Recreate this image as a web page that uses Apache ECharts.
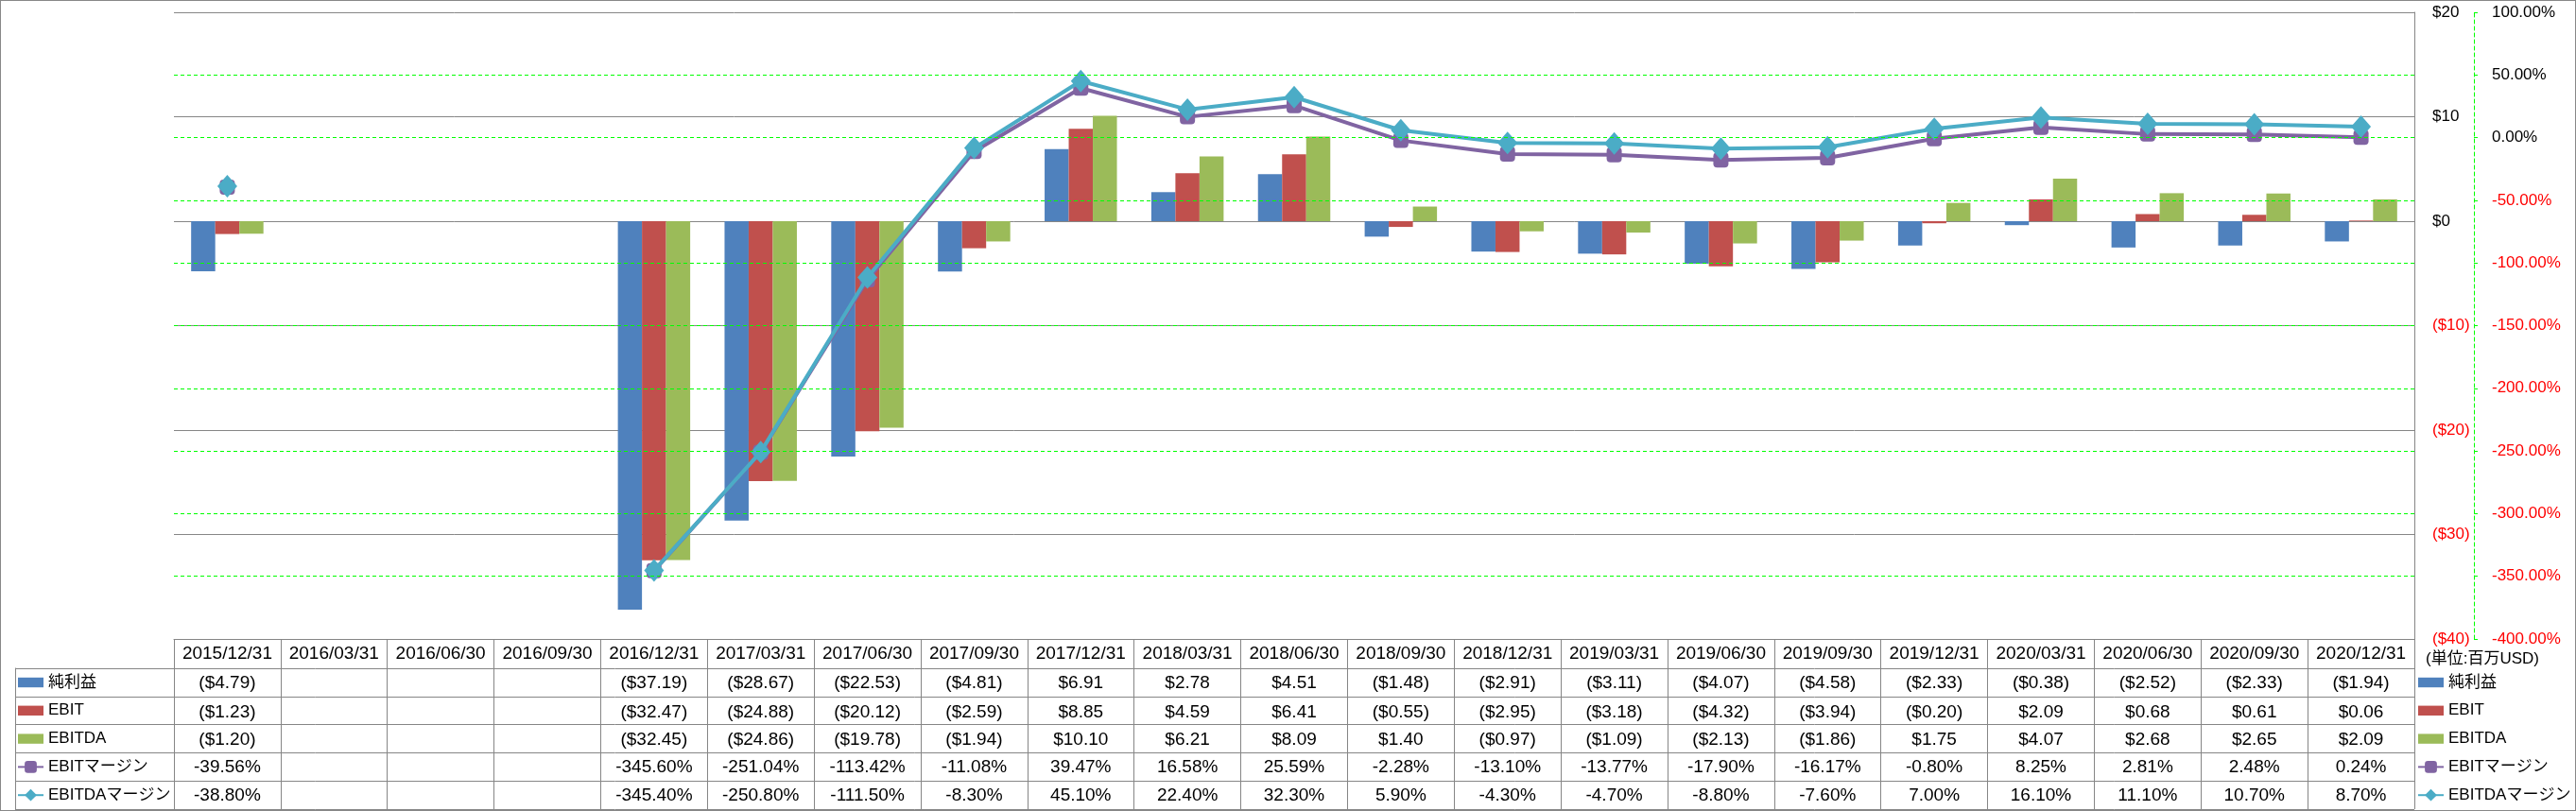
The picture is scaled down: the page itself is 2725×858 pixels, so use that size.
<!DOCTYPE html>
<html><head><meta charset="utf-8">
<script src="https://cdn.jsdelivr.net/npm/echarts@6/dist/echarts.min.js"></script>
<style>
html,body{margin:0;padding:0;background:#fff}
#c{width:2725px;height:858px;position:absolute;left:0;top:0}
#b{position:absolute;left:0;top:0;width:2725px;height:858px;box-sizing:border-box;border:1px solid #888;pointer-events:none}
</style></head><body><div id="c"></div><div id="b"></div>
<script>
const categories = ['2015/12/31','2016/03/31','2016/06/30','2016/09/30','2016/12/31','2017/03/31','2017/06/30','2017/09/30','2017/12/31','2018/03/31','2018/06/30','2018/09/30','2018/12/31','2019/03/31','2019/06/30','2019/09/30','2019/12/31','2020/03/31','2020/06/30','2020/09/30','2020/12/31'];
const netIncome = [-4.79,null,null,null,-37.19,-28.67,-22.53,-4.81,6.91,2.78,4.51,-1.48,-2.91,-3.11,-4.07,-4.58,-2.33,-0.38,-2.52,-2.33,-1.94];
const ebit = [-1.23,null,null,null,-32.47,-24.88,-20.12,-2.59,8.85,4.59,6.41,-0.55,-2.95,-3.18,-4.32,-3.94,-0.20,2.09,0.68,0.61,0.06];
const ebitda = [-1.20,null,null,null,-32.45,-24.86,-19.78,-1.94,10.10,6.21,8.09,1.40,-0.97,-1.09,-2.13,-1.86,1.75,4.07,2.68,2.65,2.09];
const ebitMargin = [-39.56,null,null,null,-345.60,-251.04,-113.42,-11.08,39.47,16.58,25.59,-2.28,-13.10,-13.77,-17.90,-16.17,-0.80,8.25,2.81,2.48,0.24];
const ebitdaMargin = [-38.80,null,null,null,-345.40,-250.80,-111.50,-8.30,45.10,22.40,32.30,5.90,-4.30,-4.70,-8.80,-7.60,7.00,16.10,11.10,10.70,8.70];
const seriesNames = ['純利益','EBIT','EBITDA','EBITマージン','EBITDAマージン'];
const dollarTicks = {min:-40, max:20, interval:10};
const pctTicks = {min:-400, max:100, interval:50};
const pctGridValues = [50,0,-50,-100,-150,-200,-250,-300,-350];
const unitText = '(単位:百万USD)';

const F = '"Liberation Sans","Noto Sans CJK JP",sans-serif';
const GRAY = '#868686';
const GREEN = '#00FF00';
const COLORS = ['#4F81BD','#C0504D','#9BBB59','#8064A2','#4BACC6'];

function money(v){ if(v==null) return ''; return v<0 ? '($'+(-v).toFixed(2)+')' : '$'+v.toFixed(2); }
function pct(v){ return v==null ? '' : v.toFixed(2)+'%'; }
const rows = [[netIncome,money],[ebit,money],[ebitda,money],[ebitMargin,pct],[ebitdaMargin,pct]];
const rowOffsets = [31,62,91,120,150];

const xAxes = [{
  type:'category', gridIndex:0, data:categories, position:'bottom',
  axisLine:{show:true, onZero:false, lineStyle:{color:GRAY, width:1}},
  axisTick:{show:true, interval:0, length:180, lineStyle:{color:GRAY, width:1}},
  axisLabel:{interval:0, margin:6, fontSize:19, lineHeight:20, fontFamily:F, color:'#000'},
  splitLine:{show:false}, splitArea:{show:false}
}];
rows.forEach((r,i)=>{
  xAxes.push({
    type:'category', gridIndex:0, data:categories, position:'bottom', offset:rowOffsets[i],
    axisLine:{show:false, onZero:false}, axisTick:{show:false}, splitLine:{show:false}, splitArea:{show:false},
    axisLabel:{interval:0, margin:6, fontSize:19, lineHeight:20, fontFamily:F, color:'#000',
      formatter:(v,idx)=>r[1](r[0][idx])}
  });
});
xAxes.push({type:'value', gridIndex:1, show:false, min:0, max:1, axisLine:{onZero:false}, splitLine:{show:false}});

const legendData = seriesNames.map((n,i)=> i<3 ? {name:n, icon:'path://M0,0h26v10h-26z'} : {name:n});
const legendBase = {orient:'vertical', top:712, padding:0, itemWidth:27, itemHeight:16, itemGap:9.8,
  selectedMode:false, data:legendData,
  textStyle:{fontSize:17, lineHeight:20, fontFamily:F, color:'#000'}};

const option = {
  animation:false,
  backgroundColor:'#fff',
  title:{text:unitText, left:2566, top:689, padding:0, textStyle:{fontSize:17, fontWeight:'normal', fontFamily:F, color:'#000'}},
  legend:[Object.assign({left:18}, legendBase), Object.assign({left:2557}, legendBase)],
  grid:[
    {left:184, right:171, top:13, bottom:182, show:false},
    {left:16, right:171, top:707, bottom:2, show:false}
  ],
  xAxis:xAxes,
  yAxis:[
    {type:'value', gridIndex:0, position:'right', min:dollarTicks.min, max:dollarTicks.max, interval:dollarTicks.interval,
      axisLine:{show:true, onZero:false, lineStyle:{color:GRAY, width:1}}, axisTick:{show:false},
      splitLine:{show:true, lineStyle:{color:GRAY, width:1}},
      axisLabel:{margin:19, fontSize:17, fontFamily:F,
        formatter:v=> v<0 ? '($'+(-v)+')' : '$'+v,
        color:v=> Number(v)<0 ? '#FF0000' : '#000'}},
    {type:'value', gridIndex:0, position:'right', offset:63, min:pctTicks.min, max:pctTicks.max, interval:pctTicks.interval,
      axisLine:{show:true, onZero:false, lineStyle:{color:GREEN, width:1, type:[4,3]}},
      axisTick:{show:true, length:4, lineStyle:{color:GREEN, width:1}},
      splitLine:{show:false},
      axisLabel:{margin:19, fontSize:17, fontFamily:F,
        formatter:v=> v.toFixed(2)+'%',
        color:v=> Number(v)<0 ? '#FF0000' : '#000'}},
    {type:'category', gridIndex:1, data:['a','b','c','d','e'], inverse:true,
      axisLine:{show:true, onZero:false, lineStyle:{color:GRAY, width:1}}, axisTick:{show:false}, axisLabel:{show:false},
      splitLine:{show:true, interval:0, lineStyle:{color:GRAY, width:1}}}
  ],
  series:[
    {name:'grid-pct', type:'line', xAxisIndex:0, yAxisIndex:1, data:[], z:0, silent:true,
      markLine:{silent:true, symbol:['none','none'], label:{show:false}, animation:false,
        lineStyle:{color:GREEN, width:1, type:[4,3]},
        emphasis:{disabled:true},
        data:pctGridValues.map(v=>({yAxis:v}))}},
    {name:seriesNames[0], type:'bar', xAxisIndex:0, yAxisIndex:0, data:netIncome, barWidth:25.5, barGap:'0%', z:2, itemStyle:{color:COLORS[0]}},
    {name:seriesNames[1], type:'bar', xAxisIndex:0, yAxisIndex:0, data:ebit, barWidth:25.5, barGap:'0%', z:2, itemStyle:{color:COLORS[1]}},
    {name:seriesNames[2], type:'bar', xAxisIndex:0, yAxisIndex:0, data:ebitda, barWidth:25.5, barGap:'0%', z:2, itemStyle:{color:COLORS[2]}},
    {name:seriesNames[3], type:'line', xAxisIndex:0, yAxisIndex:1, data:ebitMargin, z:3,
      symbol:'roundRect', symbolSize:16, showAllSymbol:true, connectNulls:false,
      itemStyle:{color:COLORS[3]}, lineStyle:{color:COLORS[3], width:4}},
    {name:seriesNames[4], type:'line', xAxisIndex:0, yAxisIndex:1, data:ebitdaMargin, z:4,
      symbol:'diamond', symbolSize:[21,24], showAllSymbol:true, connectNulls:false,
      itemStyle:{color:COLORS[4]}, lineStyle:{color:COLORS[4], width:4}}
  ]
};
const chart = echarts.init(document.getElementById('c'), null, {renderer:'canvas'});
chart.setOption(option);
</script></body></html>
